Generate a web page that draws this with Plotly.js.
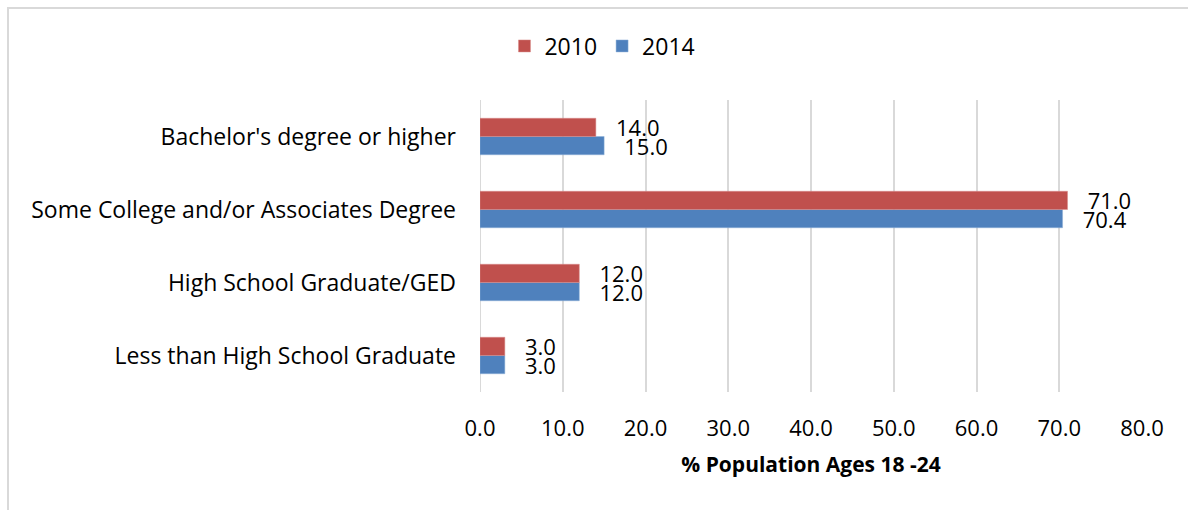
<!DOCTYPE html>
<html>
<head>
<meta charset="utf-8">
<script src="https://cdn.plot.ly/plotly-3.0.1.min.js"></script>
<style>
html,body{margin:0;padding:0;background:#fff;overflow:hidden;}
#frame{position:absolute;left:7px;top:7px;width:1300px;height:600px;border-left:2px solid #d9d9d9;border-top:2px solid #d9d9d9;box-sizing:border-box;pointer-events:none;z-index:5;}
#chart{position:absolute;left:0;top:0;width:1188px;height:510px;}
</style>
</head>
<body>
<div id="chart"></div>
<div id="frame"></div>
<script>
const categories = [
  "Less than High School Graduate",
  "High School Graduate/GED",
  "Some College and/or Associates Degree",
  "Bachelor's degree or higher"
];
const values2010 = [3.0, 12.0, 71.0, 14.0];
const values2014 = [3.0, 12.0, 70.4, 15.0];
const seriesNames = ["2010", "2014"];
const tickValues = [0, 10, 20, 30, 40, 50, 60, 70, 80];
const tickLabels = ["0.0", "10.0", "20.0", "30.0", "40.0", "50.0", "60.0", "70.0", "80.0"];
const xTitle = "% Population Ages 18 -24";

const FONT = "Open Sans, sans-serif";
const labelFont = {family: FONT, size: 22, color: "#000"};

const common = {
  type: "bar",
  orientation: "h",
  y: categories,
  texttemplate: "\u00a0\u00a0\u00a0%{x:.1f}",
  textposition: "outside",
  cliponaxis: false,
  constraintext: "none",
  textfont: labelFont,
  hoverinfo: "skip"
};

const data = [
  Object.assign({}, common, {
    name: seriesNames[1], x: values2014, legendrank: 2,
    marker: {color: "#4f81bd", line: {color: "#8fb0d8", width: 0.5}}
  }),
  Object.assign({}, common, {
    name: seriesNames[0], x: values2010, legendrank: 1,
    marker: {color: "#c0504d", line: {color: "#d88c8a", width: 0.5}}
  })
];

const layout = {
  width: 1188, height: 510,
  margin: {l: 480, r: 46, t: 100, b: 118},
  paper_bgcolor: "#fff", plot_bgcolor: "#fff",
  barmode: "group", bargap: 0.5, bargroupgap: 0,
  showlegend: true,
  legend: {
    orientation: "h", x: 0.185, xanchor: "center", y: 1.185, yanchor: "middle",
    font: {family: FONT, size: 23, color: "#000"},
    tracegroupgap: 0
  },
  xaxis: {
    range: [0, 80], tickvals: tickValues, ticktext: tickLabels,
    showgrid: true, gridcolor: "#d9d9d9", gridwidth: 2,
    zeroline: false, showline: false, ticks: "",
    tickfont: {family: FONT, size: 22, color: "#000"},
    ticklabelstandoff: 21,
    title: {text: "<b>" + xTitle + "</b>", font: {family: FONT, size: 21, color: "#000"}, standoff: 16},
    fixedrange: true
  },
  yaxis: {
    type: "category", categoryorder: "array", categoryarray: categories,
    showgrid: false, zeroline: false, showline: false, ticks: "",
    tickfont: {family: FONT, size: 23, color: "#000"},
    ticklabelstandoff: 23,
    fixedrange: true
  },
  shapes: [
    {type: "line", xref: "x", yref: "paper", x0: 0, x1: 0, y0: 0, y1: 1, line: {color: "#d9d9d9", width: 2}, layer: "below"}
  ]
};

Plotly.newPlot("chart", data, layout, {displayModeBar: false, staticPlot: true});
</script>
</body>
</html>
